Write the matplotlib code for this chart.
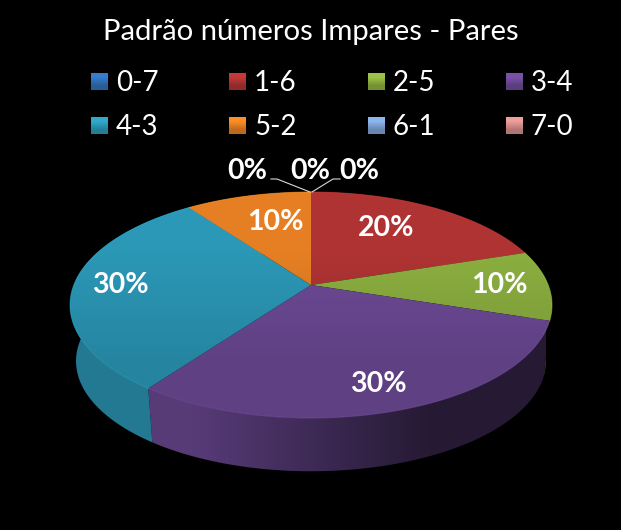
import numpy as np
import matplotlib
matplotlib.use('Agg')
import matplotlib.pyplot as plt
from matplotlib.patches import Polygon
from matplotlib.colors import to_rgb

plt.rcParams['font.family'] = ['Lato', 'DejaVu Sans']

# dados do grafico
title = 'Padrão números Impares - Pares'
categories = ['0-7', '1-6', '2-5', '3-4', '4-3', '5-2', '6-1', '7-0']
values = [0, 20, 10, 30, 30, 10, 0, 0]

colors = ['#2f6db3', '#ab3232', '#88aa3e', '#6a4892', '#2a94b2', '#e07c22', '#7b9fd0', '#cf8a88']

W, H = 621, 530
fig = plt.figure(figsize=(W / 100, H / 100), dpi=100, facecolor='black')
ax = fig.add_axes([0, 0, 1, 1])
ax.set_facecolor('black')
ax.axis('off')


# perspectiva: circulo unitario -> tela
def project(theta, cy=285.0, scale=1.0):
    x = np.sin(theta)
    y = np.cos(theta)
    w = 1 + 0.177 * y
    return 311 + scale * 237.2 * x / w, cy - scale * 109.46 * y / w


def shade(c, f):
    return np.clip(np.array(to_rgb(c)) * f, 0, 1)


def gradient_in(poly, grad, extent, z):
    im = ax.imshow(grad, extent=extent, aspect='auto', interpolation='bilinear', zorder=z)
    p = Polygon(poly, closed=True, transform=ax.transData, fc='none', ec='none')
    ax.add_patch(p)
    im.set_clip_path(p)


fracs = np.array(values) / sum(values)
starts = np.concatenate([[0], np.cumsum(fracs)[:-1]]) * 2 * np.pi
ends = np.cumsum(fracs) * 2 * np.pi

for v, c, a0, a1 in zip(values, colors, starts, ends):
    if v == 0:
        continue
    t = np.linspace(a0, a1, 120)

    # parede lateral
    tx, ty = project(t)
    bx, by = project(t, cy=341.6, scale=0.975)
    wall = np.column_stack([np.r_[tx, bx[::-1]], np.r_[ty, by[::-1]]])
    grad = np.array([[shade(c, 0.82), shade(c, 0.36)]])
    gradient_in(wall, grad, (76, 546, 480, 190), 2)

for v, c, a0, a1 in zip(values, colors, starts, ends):
    if v == 0:
        continue
    t = np.linspace(a0, a1, 120)

    # face de cima
    tx, ty = project(t)
    top = np.column_stack([np.r_[311, tx], np.r_[285, ty]])
    grad = np.array([[shade(c, 1.03)], [shade(c, 0.9)]])
    gradient_in(top, grad, (70, 552, 418, 192), 3)
    # brilho na borda
    ax.plot(tx, ty, color=shade(c, 1.25), lw=0.7, alpha=0.5, zorder=4)

# linhas de chamada
ax.plot([271, 277, 310], [179, 179, 192], color='#d9d9d9', lw=0.8, zorder=5)
ax.plot([340, 333, 312], [179, 179, 192], color='#d9d9d9', lw=0.8, zorder=5)

# rotulos de porcentagem
label_pos = [(247, 171), (386, 228), (499, 285), (378, 384),
             (120, 285), (275, 222), (310, 171), (359, 171)]
for v, (lx, ly) in zip(values, label_pos):
    ax.text(lx, ly, f'{v}%', color='white', fontsize=20.5, fontweight='bold',
            ha='center', va='center', zorder=6)

# titulo
ax.text(311, 32, title, color='white', fontsize=21.1, ha='center', va='center', zorder=6)

# legenda
col_x = [91, 229, 368, 506]
row_y = [73, 117]
for i, (name, c) in enumerate(zip(categories, colors)):
    x0 = col_x[i % 4]
    y0 = row_y[i // 4]
    grad = np.array([[shade(c, 1.15)], [shade(c, 0.85)]])
    ax.imshow(grad, extent=(x0, x0 + 17, y0 + 17, y0), aspect='auto',
              interpolation='bilinear', zorder=5)
    ax.text(x0 + 25, y0 + 10, name, color='white', fontsize=20, ha='left', va='center', zorder=6)

ax.set_xlim(0, W)
ax.set_ylim(H, 0)

fig.savefig('out.png', dpi=100, facecolor='black')
